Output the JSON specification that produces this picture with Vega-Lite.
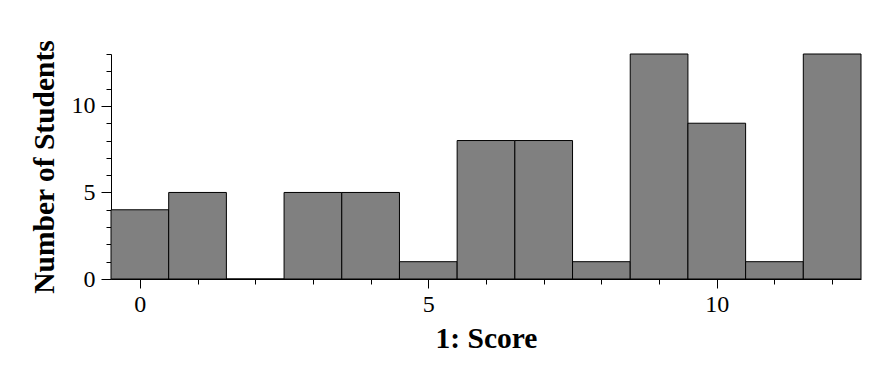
{
  "$schema": "https://vega.github.io/schema/vega-lite/v6.json",
  "width": 750,
  "height": 225,
  "padding": {"left": 28, "top": 39, "right": 10, "bottom": 5},
  "background": "white",
  "config": {
    "view": {"stroke": null},
    "font": "Liberation Serif",
    "axis": {
      "domainColor": "black",
      "tickColor": "black",
      "labelColor": "black",
      "titleColor": "black",
      "labelFont": "Liberation Serif",
      "titleFont": "Liberation Serif",
      "labelFontSize": 24,
      "titleFontSize": 29.5,
      "titleFontWeight": "bold",
      "grid": false
    }
  },
  "data": {
    "values": [
      {"start": -0.5, "end": 0.5, "count": 4},
      {"start": 0.5, "end": 1.5, "count": 5},
      {"start": 1.5, "end": 2.5, "count": 0},
      {"start": 2.5, "end": 3.5, "count": 5},
      {"start": 3.5, "end": 4.5, "count": 5},
      {"start": 4.5, "end": 5.5, "count": 1},
      {"start": 5.5, "end": 6.5, "count": 8},
      {"start": 6.5, "end": 7.5, "count": 8},
      {"start": 7.5, "end": 8.5, "count": 1},
      {"start": 8.5, "end": 9.5, "count": 13},
      {"start": 9.5, "end": 10.5, "count": 9},
      {"start": 10.5, "end": 11.5, "count": 1},
      {"start": 11.5, "end": 12.5, "count": 13}
    ]
  },
  "mark": {"type": "bar", "fill": "#808080", "stroke": "black", "strokeWidth": 1, "opacity": 1},
  "encoding": {
    "x": {
      "field": "start",
      "type": "quantitative",
      "scale": {"domain": [-0.5, 12.5], "nice": false, "zero": false},
      "axis": {
        "title": "1: Score",
        "values": [0, 1, 2, 3, 4, 5, 6, 7, 8, 9, 10, 11, 12],
        "labelExpr": "datum.value % 5 === 0 ? datum.label : ''",
        "tickSize": {"condition": {"test": "datum.value % 5 === 0", "value": 9}, "value": 5},
        "labelPadding": 4,
        "titlePadding": 8,
        "labelFlush": false
      }
    },
    "x2": {"field": "end"},
    "y": {
      "field": "count",
      "type": "quantitative",
      "scale": {"domain": [0, 13], "nice": false},
      "axis": {
        "title": "Number of Students",
        "values": [0, 1, 2, 3, 4, 5, 6, 7, 8, 9, 10, 11, 12, 13],
        "labelExpr": "datum.value % 5 === 0 ? datum.label : ''",
        "tickSize": {"condition": {"test": "datum.value % 5 === 0", "value": 10}, "value": 5},
        "labelPadding": 6,
        "titlePadding": 12,
        "labelFlush": false
      }
    },
    "y2": {"datum": 0}
  }
}
